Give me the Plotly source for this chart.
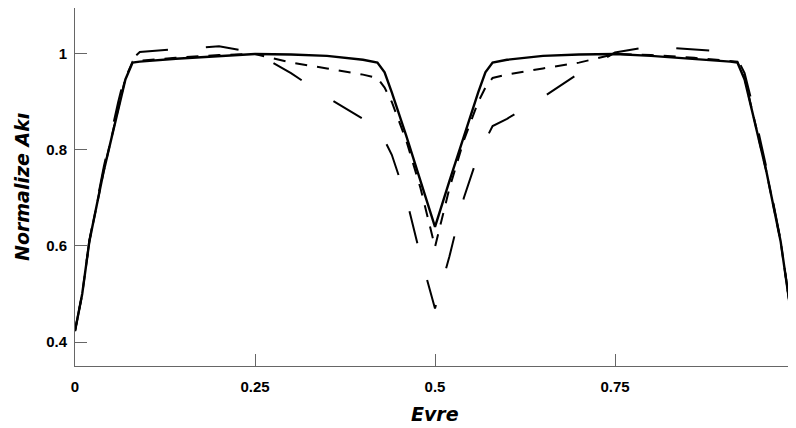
import plotly.graph_objects as go

# phase grid shared by the three light curves
phase = [0.0, 0.01, 0.02, 0.04, 0.06, 0.07, 0.08, 0.09, 0.14, 0.20, 0.25,
         0.30, 0.35, 0.40, 0.42, 0.43, 0.44, 0.46, 0.48, 0.50,
         0.52, 0.54, 0.56, 0.57, 0.58, 0.60, 0.65, 0.70, 0.75, 0.80,
         0.86, 0.91, 0.92, 0.93, 0.94, 0.96, 0.98, 0.992]

flux_solid = [0.423, 0.50, 0.61, 0.757, 0.884, 0.947, 0.982, 0.984, 0.990, 0.996, 1.000,
              0.999, 0.996, 0.988, 0.982, 0.962, 0.920, 0.830, 0.735, 0.640,
              0.735, 0.830, 0.920, 0.962, 0.982, 0.988, 0.996, 0.999, 1.000, 0.996,
              0.990, 0.984, 0.982, 0.947, 0.884, 0.757, 0.61, 0.485]

flux_short = [0.423, 0.50, 0.61, 0.757, 0.886, 0.950, 0.984, 0.986, 0.992, 0.998, 1.000,
              0.982, 0.970, 0.957, 0.950, 0.930, 0.900, 0.820, 0.720, 0.598,
              0.720, 0.820, 0.900, 0.930, 0.950, 0.957, 0.970, 0.982, 1.000, 0.998,
              0.992, 0.986, 0.984, 0.950, 0.886, 0.757, 0.61, 0.485]

flux_long = [0.423, 0.50, 0.612, 0.765, 0.900, 0.960, 0.990, 1.004, 1.010, 1.016, 1.003,
             0.960, 0.910, 0.865, 0.850, 0.820, 0.790, 0.700, 0.578, 0.470,
             0.578, 0.700, 0.790, 0.820, 0.850, 0.865, 0.910, 0.960, 1.003, 1.016,
             1.010, 1.004, 0.990, 0.960, 0.900, 0.765, 0.612, 0.485]

x_ticks = [0, 0.25, 0.5, 0.75, 1]
x_labels = ["0", "0.25", "0.5", "0.75", "1"]
y_ticks = [0.4, 0.6, 0.8, 1.0]
y_labels = ["0.4", "0.6", "0.8", "1"]

fig = go.Figure()
fig.add_trace(go.Scatter(x=phase, y=flux_long, mode="lines",
                         line=dict(color="black", width=2, dash="33px,38px")))
fig.add_trace(go.Scatter(x=phase, y=flux_short, mode="lines",
                         line=dict(color="black", width=2, dash="12px,10px")))
fig.add_trace(go.Scatter(x=phase, y=flux_solid, mode="lines",
                         line=dict(color="black", width=2.4)))

axis_common = dict(
    showline=True, linecolor="#666666", linewidth=1, mirror=True,
    ticks="inside", ticklen=12, tickcolor="#666666", tickwidth=1,
    showgrid=False, zeroline=False, automargin=False,
    ticklabeloverflow="allow",
    tickfont=dict(family="Liberation Sans", size=15, color="black", weight="bold"),
)

fig.update_xaxes(range=[0, 1], tickvals=x_ticks, ticktext=x_labels,
                 ticklabelstandoff=7, **axis_common)
fig.update_yaxes(range=[0.35, 1.0958], tickvals=y_ticks, ticktext=y_labels,
                 ticklabelstandoff=4, **axis_common)

title_font = dict(family="DejaVu Sans", size=19, color="black",
                  weight="bold", style="italic")
fig.add_annotation(text="Evre", xref="paper", yref="paper", x=0.5, y=-0.134,
                   xanchor="center", yanchor="middle", showarrow=False,
                   font=title_font)
fig.add_annotation(text="Normalize Akı", xref="paper", yref="paper", x=-0.0736, y=0.5,
                   xanchor="center", yanchor="middle", showarrow=False,
                   textangle=-90, font=title_font)

# page has an 8px body margin, so the figure is sized to fit inside the window
fig.update_layout(
    width=788, height=420,
    margin=dict(l=67, r=1, t=0, b=62),
    paper_bgcolor="white", plot_bgcolor="white",
    showlegend=False,
)

fig.write_html("out.html")
